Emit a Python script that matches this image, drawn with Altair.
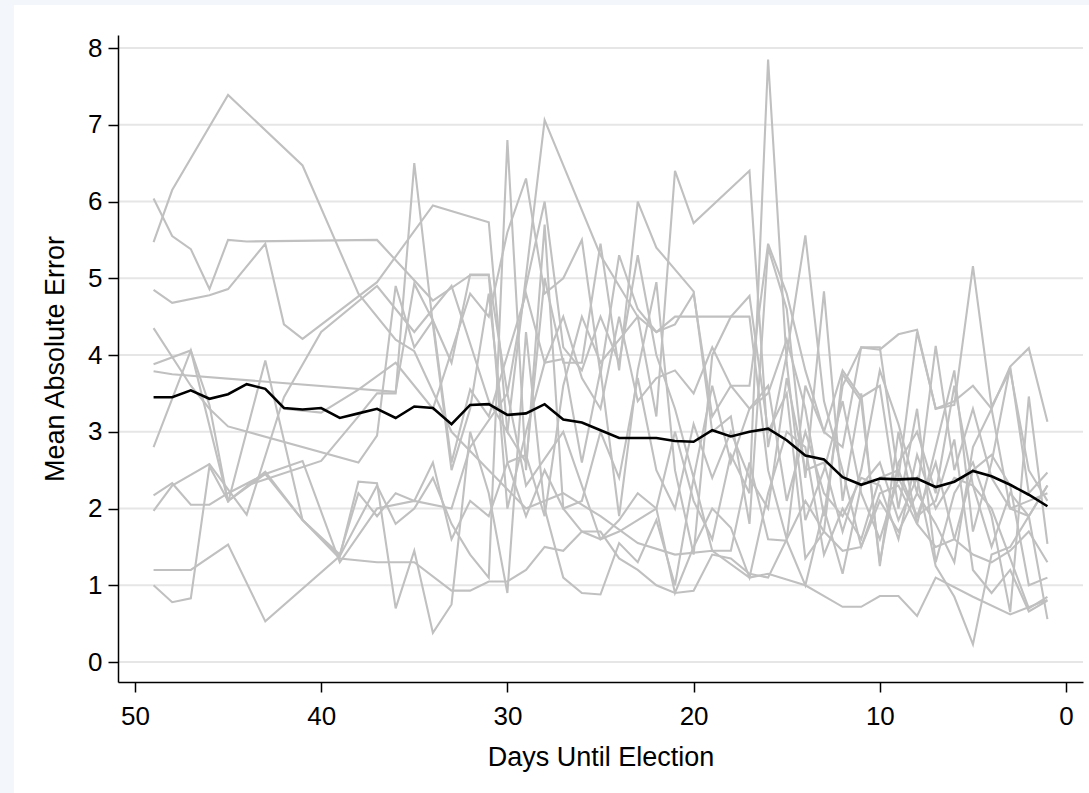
import altair as alt
import pandas as pd

# ---------------- data ----------------
mean_days = list(range(49, 0, -1))
mean_vals = [3.45, 3.45, 3.54, 3.43, 3.49, 3.62, 3.56, 3.31, 3.29, 3.31,
             3.18, 3.24, 3.30, 3.18, 3.33, 3.31, 3.10, 3.35, 3.36, 3.22,
             3.24, 3.36, 3.16, 3.12, 3.02, 2.92, 2.92, 2.92, 2.88, 2.87,
             3.02, 2.94, 3.00, 3.04, 2.89, 2.69, 2.64, 2.41, 2.31, 2.39,
             2.38, 2.39, 2.28, 2.35, 2.49, 2.42, 2.31, 2.18, 2.03]

g1_days = [49, 48, 45, 41, 38, 36, 35, 33, 31, 29, 27, 25, 23, 21, 19, 17, 16, 14, 12, 11, 10, 9, 8, 7, 5, 3, 1]
g1_vals = [5.47, 6.15, 7.39, 6.47, 4.8, 4.2, 4.05, 3.0, 2.5, 2.0, 2.2, 1.9, 1.55, 1.4, 1.45, 1.1, 1.15, 1.0, 0.72, 0.72, 0.86, 0.86, 0.6, 1.1, 0.85, 0.62, 0.81]

g2_days = [49, 48, 47, 46, 45, 44, 37, 34, 32, 31, 30, 29, 28, 27, 26, 25, 24, 23, 22, 21, 20, 19, 18, 17, 16, 15, 14, 13, 12, 11, 10, 9, 8, 7, 6, 5, 4, 3, 2, 1]
g2_vals = [6.04, 5.55, 5.38, 4.86, 5.5, 5.48, 5.5, 4.71, 5.04, 5.04, 3.5, 4.9, 6.0, 4.1, 3.8, 4.5, 3.9, 5.3, 4.0, 3.3, 2.4, 3.6, 2.6, 3.3, 3.6, 2.1, 3.0, 2.2, 1.9, 2.4, 2.3, 1.6, 2.7, 2.0, 2.4, 2.3, 1.5, 2.2, 1.9, 2.3]

g3_days = [49, 48, 46, 45, 43, 42, 41, 37, 34, 31, 30, 29, 28, 27, 26, 25, 24, 23, 22, 20, 19, 18, 17, 16, 15, 14, 13, 12, 11, 10, 9, 8, 7, 6, 5, 4, 3, 2, 1]
g3_vals = [4.85, 4.68, 4.78, 4.86, 5.45, 4.4, 4.21, 4.95, 5.95, 5.73, 3.0, 2.6, 5.0, 3.9, 3.9, 5.45, 3.8, 6.0, 5.4, 4.83, 3.0, 3.2, 1.8, 5.4, 4.6, 2.4, 4.83, 2.1, 3.5, 1.25, 3.0, 1.8, 2.8, 3.8, 1.7, 2.6, 3.85, 2.2, 2.47]

g4_days = [49, 47, 46, 45, 38, 37, 36, 35, 34, 33, 32, 31, 30, 29, 28, 27, 26, 25, 24, 23, 22, 21, 20, 19, 18, 17, 16, 15, 14, 13, 12, 11, 10, 9, 8, 7, 6, 5, 4, 3, 2, 1]
g4_vals = [4.35, 3.6, 3.3, 3.07, 2.6, 2.95, 4.9, 4.1, 4.45, 3.9, 5.05, 5.05, 2.0, 3.0, 3.9, 3.95, 2.6, 3.8, 1.9, 3.8, 4.95, 2.5, 1.4, 4.0, 4.5, 4.5, 2.5, 1.6, 3.6, 3.0, 3.8, 3.45, 3.6, 2.0, 3.3, 1.3, 2.2, 2.6, 1.9, 0.65, 3.46, 1.54]

g5_days = [49, 47, 46, 45, 43, 41, 39, 38, 37, 36, 35, 34, 33, 32, 31, 30, 29, 28, 27, 26, 25, 24, 23, 22, 21, 20, 19, 18, 17, 16, 15, 14, 13, 12, 11, 10, 9, 8, 7, 6, 5, 4, 3, 2, 1]
g5_vals = [3.88, 4.06, 3.35, 2.08, 3.93, 1.85, 1.38, 2.35, 2.33, 0.7, 1.45, 0.38, 0.75, 3.0, 2.2, 0.9, 4.3, 2.0, 1.1, 0.9, 0.88, 1.55, 1.3, 1.85, 1.0, 2.4, 1.45, 1.45, 2.6, 1.6, 1.58, 1.0, 2.0, 1.15, 2.3, 2.6, 1.85, 2.4, 1.25, 0.85, 0.23, 1.4, 1.5, 1.9, 0.56]

g6_days = [49, 48, 36, 35, 34, 33, 32, 31, 30, 29, 28, 27, 26, 25, 24, 23, 22, 21, 20, 19, 18, 17, 16, 15, 14, 13, 12, 11, 10, 9, 8, 7, 6, 5, 4, 3, 2, 1]
g6_vals = [3.79, 3.75, 3.52, 4.93, 4.45, 2.6, 3.55, 3.2, 4.0, 4.8, 3.9, 4.5, 3.7, 3.3, 4.5, 3.4, 3.7, 3.8, 3.5, 4.1, 3.6, 3.3, 3.5, 4.2, 3.3, 1.9, 3.6, 4.1, 4.07, 4.27, 4.33, 3.3, 3.4, 3.6, 3.3, 3.85, 4.09, 3.13]

g7_days = [49, 47, 45, 43, 41, 39, 37, 35, 33, 32, 30, 29, 27, 25, 24, 22, 21, 20, 19, 18, 17, 16, 15, 14, 13, 12, 11, 10, 9, 8, 7, 6, 5, 4, 3, 2, 1]
g7_vals = [2.8, 4.06, 2.1, 2.45, 2.62, 1.3, 2.0, 2.1, 2.0, 2.8, 3.5, 2.3, 3.0, 1.6, 1.7, 2.0, 3.0, 2.1, 1.6, 2.7, 2.2, 7.85, 3.9, 1.85, 2.5, 3.4, 2.2, 1.6, 2.4, 1.9, 2.6, 1.6, 2.5, 2.7, 2.3, 1.0, 1.1]

g8_days = [49, 48, 47, 46, 45, 43, 41, 39, 38, 37, 36, 35, 34, 33, 32, 31, 30, 29, 28, 27, 26, 25, 24, 23, 22, 21, 20, 17, 16, 15, 14, 13, 12, 11, 10, 9, 8, 7, 6, 5, 4, 3, 2, 1]
g8_vals = [2.17, 2.33, 2.05, 2.05, 2.2, 2.45, 1.85, 1.4, 2.2, 1.9, 2.2, 2.1, 2.6, 1.6, 2.1, 1.9, 2.6, 2.7, 1.9, 3.6, 4.5, 3.9, 4.2, 4.5, 3.2, 6.4, 5.72, 6.4, 2.8, 4.0, 5.56, 3.4, 2.5, 1.5, 2.1, 1.7, 2.2, 1.8, 1.3, 2.8, 3.3, 2.0, 1.9, 2.3]

g9_days = [49, 48, 46, 44, 42, 40, 37, 35, 33, 31, 30, 28, 25, 24, 23, 22, 21, 19, 18, 17, 16, 15, 14, 13, 12, 11, 10, 9, 8, 7, 6, 5, 4, 3, 2, 1]
g9_vals = [1.97, 2.3, 2.58, 1.92, 3.45, 4.3, 4.9, 4.3, 4.9, 3.4, 3.0, 7.06, 5.3, 4.9, 4.5, 4.3, 4.5, 4.5, 4.5, 4.77, 3.0, 3.5, 1.35, 1.7, 3.75, 3.4, 1.3, 2.6, 3.0, 2.2, 3.6, 2.3, 2.0, 1.35, 0.7, 0.85]

g10_days = [49, 48, 47, 45, 43, 39, 37, 36, 35, 34, 33, 32, 31, 30, 29, 28, 27, 26, 25, 24, 23, 22, 21, 20, 19, 18, 17, 16, 15, 14, 13, 12, 11, 10, 9, 8, 7, 6, 5, 4, 3, 2, 1]
g10_vals = [1.2, 1.2, 1.2, 1.53, 0.53, 1.38, 2.3, 1.8, 2.0, 2.4, 1.8, 1.4, 1.1, 6.8, 2.5, 5.7, 2.0, 1.7, 1.6, 1.85, 2.2, 2.0, 0.9, 1.5, 2.0, 1.75, 1.1, 2.2, 3.0, 2.8, 1.4, 2.0, 1.6, 2.4, 2.5, 1.9, 2.1, 2.9, 1.2, 0.9, 1.2, 0.66, 0.8]

g11_days = [49, 48, 47, 46, 45, 43, 41, 39, 37, 35, 33, 32, 31, 30, 29, 28, 27, 26, 25, 24, 23, 22, 21, 20, 19, 18, 17, 16, 15, 14, 13, 12, 11, 10, 9, 8, 7, 6, 5, 4, 3, 2, 1]
g11_vals = [1.0, 0.78, 0.83, 2.55, 2.1, 2.48, 1.85, 1.35, 1.3, 1.3, 0.93, 0.93, 1.05, 1.05, 1.2, 1.5, 1.45, 1.7, 1.7, 1.35, 1.2, 1.0, 0.9, 0.93, 1.4, 1.35, 1.15, 1.1, 1.6, 2.1, 1.7, 1.45, 1.5, 2.2, 2.3, 1.8, 1.5, 1.6, 1.4, 1.3, 1.45, 1.7, 1.3]

g12_days = [42, 40, 38, 36, 34, 32, 31, 30, 29, 28, 27, 26, 25, 24, 23, 22, 21, 20, 19, 18, 17, 16, 15, 14, 13, 12, 11, 10, 9, 8, 7, 6, 5, 4, 3, 2, 1]
g12_vals = [3.3, 3.25, 3.55, 3.9, 3.3, 4.8, 4.5, 5.6, 6.3, 4.8, 5.0, 5.5, 3.75, 5.3, 4.6, 4.3, 4.4, 4.8, 3.2, 3.6, 3.6, 5.45, 4.8, 3.8, 3.0, 2.8, 4.1, 4.1, 2.4, 4.3, 3.3, 3.35, 5.16, 3.33, 3.8, 2.5, 2.1]

g13_days = [44, 40, 38, 37, 36, 35, 34, 33, 32, 31, 30, 29, 28, 27, 26, 25, 24, 23, 22, 21, 20, 19, 18, 17, 16, 15, 14, 13, 12, 11, 10, 9, 8, 7, 6, 5, 4, 3, 2, 1]
g13_vals = [2.3, 2.62, 3.2, 3.5, 3.5, 6.5, 4.4, 2.5, 3.3, 4.8, 2.6, 1.9, 2.5, 2.0, 2.1, 3.0, 2.4, 3.7, 2.5, 2.0, 3.1, 2.4, 3.0, 2.4, 2.0, 3.7, 2.5, 2.6, 1.7, 2.5, 3.8, 3.1, 2.2, 4.12, 2.5, 3.3, 2.4, 2.0, 2.1, 2.2]

series_days = [g1_days, g2_days, g3_days, g4_days, g5_days, g6_days, g7_days,
               g8_days, g9_days, g10_days, g11_days, g12_days, g13_days]
series_vals = [g1_vals, g2_vals, g3_vals, g4_vals, g5_vals, g6_vals, g7_vals,
               g8_vals, g9_vals, g10_vals, g11_vals, g12_vals, g13_vals]

y_ticks = [0, 1, 2, 3, 4, 5, 6, 7, 8]
x_ticks = [0, 10, 20, 30, 40, 50]

# ---------------- build tables ----------------
rows = []
for i, (ds, vs) in enumerate(zip(series_days, series_vals)):
    for d, v in zip(ds, vs):
        rows.append({"series": f"s{i + 1}", "day": d, "mae": v})
gray_df = pd.DataFrame(rows)
mean_df = pd.DataFrame({"day": mean_days, "mae": mean_vals})
grid_df = pd.DataFrame({"mae": y_ticks})

FONT = "Liberation Sans"
W, H = 965, 647

x_scale = alt.Scale(domain=[-0.91, 50.91], reverse=True, nice=False, zero=False)
y_scale = alt.Scale(domain=[-0.26, 8.17], nice=False, zero=False)

x_enc = alt.X("day:Q", scale=x_scale,
              axis=alt.Axis(values=x_ticks, title="Days Until Election", grid=False,
                            labelFontSize=26, titleFontSize=27, labelPadding=11,
                            titlePadding=15, tickSize=10, format="d", zindex=1))
y_enc = alt.Y("mae:Q", scale=y_scale,
              axis=alt.Axis(values=y_ticks, title="Mean Absolute Error", grid=False,
                            labelFontSize=26, titleFontSize=27, labelPadding=6,
                            titlePadding=18, tickSize=10, format="d", zindex=1))

bg = alt.Chart(pd.DataFrame({"k": [0]})).mark_rect(color="white").encode(
    x=alt.value(-104), x2=alt.value(971), y=alt.value(-30), y2=alt.value(758)
)

grid = alt.Chart(grid_df).mark_rule(color="#e6e6e6", strokeWidth=2).encode(
    y=y_enc,
    x=alt.value(0), x2=alt.value(W),
)

gray = alt.Chart(gray_df).mark_line(color="#c0c0c0", strokeWidth=2.1).encode(
    x=x_enc, y=y_enc, detail="series:N"
)

black = alt.Chart(mean_df).mark_line(color="#000000", strokeWidth=2.6).encode(
    x="day:Q", y="mae:Q"
)

chart = alt.layer(bg, grid, gray, black).properties(
    width=W, height=H,
    background="#f3f6fa",
    autosize=alt.AutoSizeParams(type="none"),
    padding={"left": 118, "top": 35, "right": 6, "bottom": 111},
).configure_view(stroke=None).configure_axis(
    labelFont=FONT, titleFont=FONT, labelColor="#000", titleColor="#000",
    titleFontWeight="normal", domainColor="#000", domainWidth=1.5,
    tickColor="#000", tickWidth=1.5,
)

chart.save("out.html", embed_options={"renderer": "svg", "actions": False})
